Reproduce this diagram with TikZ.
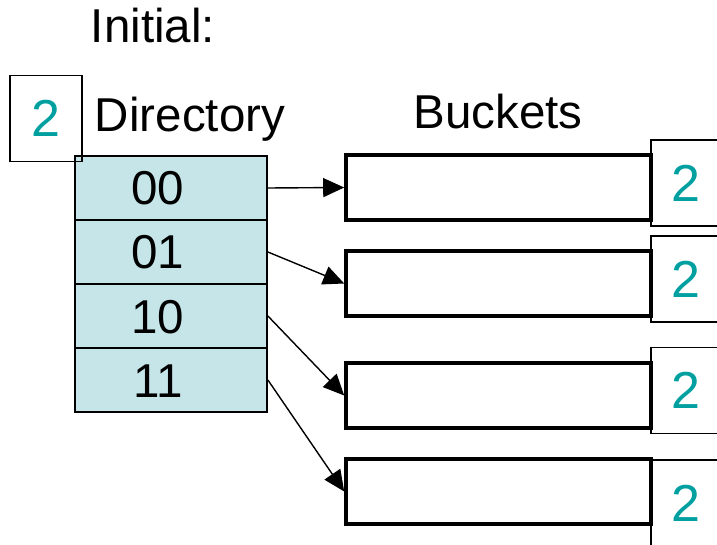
\documentclass[tikz,border=0pt]{standalone}
\usepackage{fontspec}
\setmainfont{Liberation Sans}
\usetikzlibrary{arrows.meta}
\definecolor{dirfill}{RGB}{197,229,232}
\definecolor{depthteal}{RGB}{0,160,160}
\begin{document}
\begin{tikzpicture}[x=1pt,y=-1pt,
  lbl/.style={inner sep=0pt,font=\fontsize{47.5}{56}\selectfont},
  dircell/.style={draw,line width=1.8pt,fill=dirfill,minimum width=192pt,minimum height=64pt,inner sep=0pt},
  bucket/.style={draw,line width=3.6pt,minimum width=305pt,minimum height=65pt,inner sep=0pt},
  depthbox/.style={draw,line width=1.8pt,fill=white,minimum width=70pt,minimum height=86pt,inner sep=0pt,
    text=depthteal,font=\fontsize{52}{60}\selectfont},
  ptr/.style={line width=1.4pt,-{Triangle[length=21pt,width=19pt]}}]
\useasboundingbox (0,0) rectangle (717,545);
\clip (0,0) rectangle (717,545);

% headings
\node[lbl,anchor=base] (initial) at (153,43) {Initial:};
\node[lbl,anchor=base] (dirtitle) at (190,132) {Directory};
\node[lbl,anchor=base] (buckettitle) at (498,129) {Buckets};

% directory cells
\node[dircell] (d00) at (171,188) {};
\node[dircell] (d01) at (171,252) {};
\node[dircell] (d10) at (171,316) {};
\node[dircell] (d11) at (171,380) {};
\node[lbl,anchor=base] (t00) at (158,205) {00};
\node[lbl,anchor=base] (t01) at (158,269) {01};
\node[lbl,anchor=base] (t10) at (158,333) {10};
\node[lbl,anchor=base] (t11) at (158,397) {11};

% global depth
\node[depthbox,minimum width=72pt,fill=none] (global) at (46,118.5) {2};

% local depths
\node[depthbox] (l1) at (686,183) {2};
\node[depthbox] (l2) at (686,279) {2};
\node[depthbox] (l3) at (686,390.5) {2};
\node[depthbox] (l4) at (686,503) {2};

% buckets
\node[bucket] (b1) at (498.5,187.5) {};
\node[bucket] (b2) at (498.5,283.5) {};
\node[bucket] (b3) at (498.5,395.5) {};
\node[bucket] (b4) at (498.5,491.5) {};

% pointers
\draw[ptr] (d00.east) -- (b1.west);
\draw[ptr] (d01.east) -- (b2.west);
\draw[ptr] (d10.east) -- (b3.west);
\draw[ptr] (d11.east) -- (b4.west);
\end{tikzpicture}
\end{document}
